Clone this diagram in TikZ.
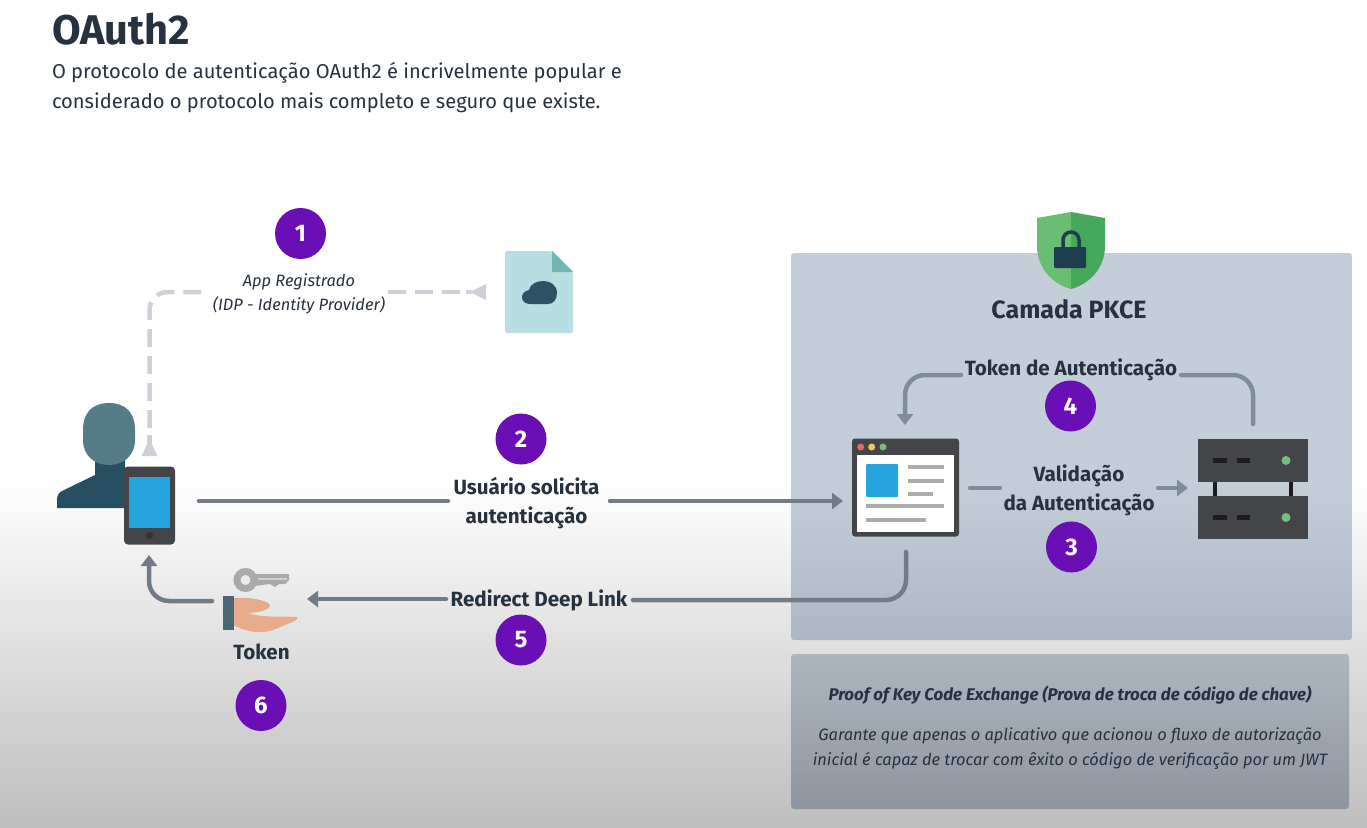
\documentclass[tikz,border=0pt]{standalone}
\usepackage{fontspec}
\setmainfont{Fira Sans}
\usetikzlibrary{arrows.meta,calc}
\definecolor{ink}{HTML}{26323F}
\definecolor{arrowgray}{HTML}{737B86}
\definecolor{panelarrow}{HTML}{7F8C99}
\definecolor{dashgray}{HTML}{CDD0D6}
\definecolor{badge}{HTML}{6A0FB5}
\definecolor{darkbox}{HTML}{444549}
\definecolor{skyblue}{HTML}{26A4DD}
\definecolor{barg}{HTML}{ABABAB}
\definecolor{bgbot}{HTML}{BEBEBE}
\definecolor{pTop}{HTML}{C4CED8}
\definecolor{pBot}{HTML}{AEB8C3}
\definecolor{qTop}{HTML}{ADB6BF}
\definecolor{qBot}{HTML}{8F959E}
\definecolor{body}{HTML}{284E61}
\definecolor{head}{HTML}{567C8A}
\definecolor{fileb}{HTML}{B8DDE2}
\definecolor{filef}{HTML}{71B8B2}
\definecolor{cloud}{HTML}{2E5264}
\definecolor{dotr}{HTML}{E26870}
\definecolor{doty}{HTML}{E8CC68}
\definecolor{dotg}{HTML}{7AB87C}
\definecolor{led}{HTML}{76BE7E}
\definecolor{shieldl}{HTML}{6ABE74}
\definecolor{shieldr}{HTML}{46A85A}
\definecolor{lock}{HTML}{1E3E50}
\definecolor{keyg}{HTML}{AAAAAC}
\definecolor{keyl}{HTML}{D0D0D2}
\definecolor{skin}{HTML}{E8AA8C}
\definecolor{cuff}{HTML}{496876}
\definecolor{slot}{HTML}{1D1D1F}
\definecolor{homeb}{HTML}{333336}
\tikzset{
  x=1pt,y=-1pt,
  every node/.style={inner sep=0pt,outer sep=0pt,text=ink,align=center},
  numbadge/.style={circle,minimum size=51pt,fill=badge,text=white,font=\fontsize{24}{24}\selectfont\bfseries},
  lbl/.style={font=\fontsize{20.6}{29}\selectfont\bfseries},
  ital/.style={font=\fontsize{16.4}{24}\selectfont\itshape},
  conn/.style={draw=arrowgray,line width=4.5pt,line cap=round,rounded corners=20pt,-{Triangle[length=11pt,width=16pt]}},
  connplain/.style={draw=arrowgray,line width=4.5pt,line cap=round,rounded corners=20pt},
  pconn/.style={conn,draw=panelarrow},
  pplain/.style={connplain,draw=panelarrow},
  dashconn/.style={draw=dashgray,line width=4.5pt,dash pattern=on 18pt off 9pt,rounded corners=18pt},
  dashtip/.style={fill=dashgray,draw=none},
}
\begin{document}
\begin{tikzpicture}
\useasboundingbox (0,0) rectangle (1367,827);
\fill[white] (0,0) rectangle (1367,827);
\shade[top color=white,bottom color=bgbot] (0,480) rectangle (1367,827);
\begin{scope}
  \clip[rounded corners=3pt] (791,253) rectangle (1352,640);
  \fill[pTop] (791,253) rectangle (1352,481);
  \shade[top color=pTop,bottom color=pBot] (791,480) rectangle (1352,640);
\end{scope}
\shade[rounded corners=3pt,top color=qTop,bottom color=qBot] (791,654) rectangle (1349,809);

% title
\node[anchor=west,font=\fontsize{41.5}{41.5}\selectfont\bfseries] (title) at (52,29) {OAuth2};
\node[anchor=north west,align=left,font=\fontsize{20.1}{30}\selectfont] (intro) at (52,62)
  {O protocolo de autenticação OAuth2 é incrivelmente popular e\\considerado o protocolo mais completo e seguro que existe.};

% person + phone
\fill[body] (95,450) -- (95,475) -- (62,491) .. controls (58,493) and (57,496) .. (57,501) -- (57,508) -- (125,508) -- (125,450) -- cycle;
\fill[head] (83,430) .. controls (83,412) and (93,403) .. (109,403) .. controls (125,403) and (135,412) .. (135,430) -- (135,440) .. controls (135,456) and (123,465) .. (109,465) .. controls (95,465) and (83,456) .. (83,440) -- cycle;
\node[fill=darkbox,rounded corners=4pt,minimum width=51pt,minimum height=78pt] (phone) at (149.5,505.5) {};
\fill[skyblue] (129,477) rectangle (170,528);
\fill[homeb] (149.5,535.7) circle (3.5pt);

% file icon
\node[minimum width=68pt,minimum height=82pt] (file) at (539,292) {};
\fill[fileb,rounded corners=2pt] (505,251) -- (552,251) -- (573,272) -- (573,333) -- (505,333) -- cycle;
\fill[filef] (552,251) -- (573,272) -- (552,272) -- cycle;
\fill[cloud] (530,304) .. controls (520,304) and (519,292) .. (529,290) .. controls (531,278) and (557,277) .. (557,293) .. controls (557,300) and (553,304) .. (548,304) -- cycle;

% browser
\node[fill=darkbox,rounded corners=3pt,minimum width=107pt,minimum height=98pt] (browser) at (905.5,487.5) {};
\fill[white] (857,455) rectangle (954,532);
\fill[dotr] (860.7,447) circle (3.5pt);
\fill[doty] (871.7,447) circle (3.5pt);
\fill[dotg] (883,447) circle (3.5pt);
\fill[skyblue,rounded corners=1pt] (866,464) rectangle (898,497);
\foreach \xa/\xb/\yy in {908/944/466.7,908/944/480.7,908/933/494.3,866/944/506,866/926/520}
  \draw[barg,line width=4pt] (\xa,\yy) -- (\xb,\yy);

% server
\node[fill=darkbox,minimum width=110pt,minimum height=43pt] (srvtop) at (1253,460.5) {};
\node[fill=darkbox,minimum width=110pt,minimum height=43pt] (srvbot) at (1253,517.5) {};
\draw[slot,line width=4.5pt] (1215,482) -- (1215,496) (1291,482) -- (1291,496);
\foreach \yy in {460.5,517.5}{
  \draw[slot,line width=5pt] (1213,\yy) -- (1227,\yy) (1237,\yy) -- (1250,\yy);
  \fill[led] (1286,\yy) circle (4.5pt);
}

% shield
\fill[shieldl] (1071,212) -- (1037,218) -- (1037,246) .. controls (1037,270) and (1055,285) .. (1071,289) -- cycle;
\fill[shieldr] (1071,212) -- (1105,218) -- (1105,246) .. controls (1105,270) and (1087,285) .. (1071,289) -- cycle;
\draw[line width=3.5pt,draw=lock] (1063,248) -- (1063,240) arc[start angle=180,end angle=360,radius=8] -- (1079,248);
\fill[lock,rounded corners=1pt] (1054,247) rectangle (1086,268);
\node[font=\fontsize{25}{25}\selectfont\bfseries] (pkce) at (1069,309) {Camada PKCE};

% key + hand
\draw[draw=keyg,line width=7pt] (245.5,580) circle (8.5pt);
\fill[keyg] (255,574) -- (289,574) -- (289,580) -- (285,584) -- (279,584) -- (275,587) -- (270,584) -- (255,586) -- cycle;
\draw[keyl,line width=1.5pt] (258,579) -- (287,579);
\fill[skin] (233,598) .. controls (245,597) and (262,599) .. (268,603) .. controls (274,607) and (266,612) .. (248,613) .. controls (262,618) and (280,616) .. (297,617) .. controls (299,620) and (295,621) .. (280,627) .. controls (262,636) and (248,632) .. (233,625) -- cycle;
\node[minimum width=11pt,minimum height=34pt,fill=cuff] (hand) at (228.5,613) {};
\node[font=\fontsize{20.6}{20.6}\selectfont\bfseries] (token) at (261.5,652) {Token};

% labels
\node[ital] (app) at (299,294) {App Registrado\\(IDP - Identity Provider)};
\node[lbl] (solic) at (526.5,503) {Usuário solicita\\autenticação};
\node[lbl] (redir) at (539,600) {Redirect Deep Link};
\node[lbl] (tokaut) at (1071,370) {Token de Autenticação};
\node[lbl] (valid) at (1079,490) {Validação\\da Autenticação};

% badges
\node[numbadge] (b1) at (300.5,233.5) {1};
\node[numbadge] (b2) at (521,439) {2};
\node[numbadge] (b3) at (1071.5,547) {3};
\node[numbadge] (b4) at (1070.5,406) {4};
\node[numbadge] (b5) at (521,640) {5};
\node[numbadge] (b6) at (261,705.5) {6};

% connectors
\coordinate (c1) at (149.5,292);
\coordinate (c2) at (149.5,428);
\coordinate (c3) at (388,292);
\coordinate (c4) at (460,292);
\coordinate (c5) at (205,292);
\draw[dashconn] (c2) -- (c1) -- (c5);
\draw[dashconn] (c3) -- (c4);
\fill[dashtip] (486,284) -- (486,300) -- (473,293.5) -- (466,294.3) -- (466,289.8) -- (473,290.5) -- cycle;
\fill[dashtip] (141.5,456) -- (157.5,456) -- (151.8,444) -- (151.8,435) -- (147.2,435) -- (147.2,444) -- cycle;

\coordinate (m1) at (199,501);
\coordinate (m2) at (448,501);
\coordinate (m3) at (610,501);
\coordinate (m4) at (843,501);
\draw[connplain] (m1) -- (m2);
\draw[conn] (m3) -- (m4);
\coordinate (r1) at (906,552);
\coordinate (r2) at (906,600);
\coordinate (r3) at (633,600);
\coordinate (r4) at (446,599);
\coordinate (r5) at (307,599);
\draw[connplain] (r1) -- (r2) -- (r3);
\draw[conn] (r4) -- (r5);
\coordinate (t1) at (212,601);
\coordinate (t2) at (149,601);
\coordinate (t3) at (149,555);
\draw[conn] (t1) -- (t2) -- (t3);
\coordinate (u1) at (961,375);
\coordinate (u2) at (905,375);
\coordinate (u3) at (905,425);
\coordinate (u4) at (1181,375);
\coordinate (u5) at (1253,375);
\coordinate (u6) at (1253,424);
\draw[pconn] (u1) -- (u2) -- (u3);
\draw[pplain] (u4) -- (u5) -- (u6);
\coordinate (v1) at (970,488);
\coordinate (v2) at (1000,488);
\coordinate (v3) at (1158,488);
\coordinate (v4) at (1188,488);
\draw[pplain] (v1) -- (v2);
\draw[pconn] (v3) -- (v4);

% lower panel text
\node[font=\fontsize{16.9}{16.9}\selectfont\bfseries\itshape] (proof) at (1070,695.5) {Proof of Key Code Exchange (Prova de troca de código de chave)};
\node[font=\fontsize{16.45}{24.5}\selectfont\itshape] (gar) at (1070,748.5) {Garante que apenas o aplicativo que acionou o fluxo de autorização\\inicial é capaz de trocar com êxito o código de verificação por um JWT};
\end{tikzpicture}
\end{document}
